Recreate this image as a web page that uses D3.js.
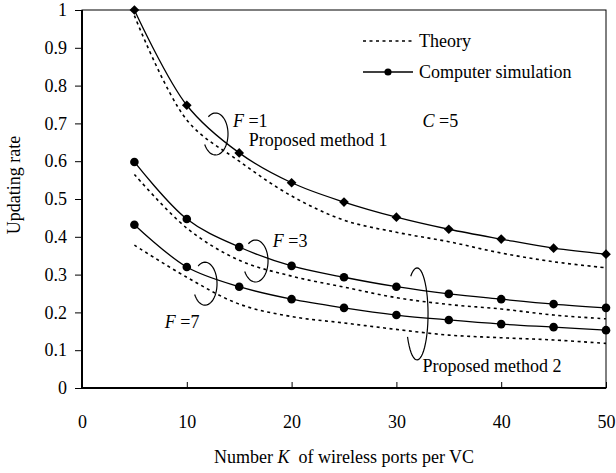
<!DOCTYPE html>
<html>
<head>
<meta charset="utf-8">
<script src="https://cdn.jsdelivr.net/npm/d3@7"></script>
<style>
  body { margin: 0; background: #fff; }
</style>
</head>
<body>
<svg class="chart" width="616" height="473"></svg>
<script>
const K = [5, 10, 15, 20, 25, 30, 35, 40, 45, 50]

// computer simulation
const simF1 = [1.0, 0.748, 0.622, 0.543, 0.492, 0.452, 0.420, 0.394, 0.370, 0.354]
const simF3 = [0.598, 0.447, 0.373, 0.323, 0.293, 0.268, 0.249, 0.235, 0.222, 0.212]
const simF7 = [0.432, 0.320, 0.268, 0.235, 0.212, 0.193, 0.180, 0.169, 0.161, 0.153]

// theory
const thF1 = [0.985, 0.709, 0.600, 0.508, 0.444, 0.412, 0.387, 0.357, 0.334, 0.318]
const thF3 = [0.565, 0.423, 0.338, 0.296, 0.267, 0.239, 0.221, 0.209, 0.193, 0.183]
const thF7 = [0.378, 0.293, 0.222, 0.189, 0.172, 0.155, 0.140, 0.133, 0.127, 0.118]

const xTicks = [0, 10, 20, 30, 40, 50]
const yTicks = [0, 0.1, 0.2, 0.3, 0.4, 0.5, 0.6, 0.7, 0.8, 0.9, 1]

const width = 616
const height = 473
const margin = {top: 10, right: 10, bottom: 85, left: 82}
const fs = 18
const font = "'Liberation Serif', 'Times New Roman', serif"

const svg = d3.select('svg.chart')
    .attr("viewBox", [0, 0, width, height])
    .attr("font-family", font)

const x = d3.scaleLinear().domain([0, 50]).range([margin.left, width - margin.right])
const y = d3.scaleLinear().domain([0, 1]).range([height - margin.bottom, margin.top])

// axes
svg.append("g")
    .attr("transform", `translate(0,${y(0)})`)
    .call(d3.axisBottom(x).tickValues(xTicks).tickSize(-6).tickPadding(27))
    .attr("font-family", font).attr("font-size", fs)
    .call(g => g.select(".domain").remove())
    .call(g => g.selectAll("line").attr("stroke", "#000"))
    .call(g => g.selectAll("text").attr("fill", "#000"))

svg.append("g")
    .attr("transform", `translate(${x(0)},0)`)
    .call(d3.axisLeft(y).tickValues(yTicks).tickSize(7).tickPadding(8)
        .tickFormat(d => (d === 0 || d === 1) ? d : d.toFixed(1)))
    .attr("font-family", font).attr("font-size", fs)
    .call(g => g.select(".domain").remove())
    .call(g => g.selectAll("line").attr("stroke", "#000"))
    .call(g => g.selectAll("text").attr("fill", "#000"))

// frame
svg.append("rect")
    .attr("x", x(0)).attr("y", y(1))
    .attr("width", x(50) - x(0)).attr("height", y(0) - y(1))
    .attr("fill", "none").attr("stroke", "#000").attr("stroke-width", 1)
svg.append("path")
    .attr("d", `M${x(0)},${y(1)}V${y(0)}H${x(50)}`)
    .attr("fill", "none").attr("stroke", "#000").attr("stroke-width", 2)

// axis titles
svg.append("text")
    .attr("x", (x(0) + x(50)) / 2).attr("y", 463)
    .attr("text-anchor", "middle").attr("font-size", fs)
    .call(t => {
        t.append("tspan").text("Number ")
        t.append("tspan").attr("font-style", "italic").text("K")
        t.append("tspan").text("\u00a0 of wireless ports per VC")
    })

svg.append("text")
    .attr("transform", "translate(20,185) rotate(-90)")
    .attr("text-anchor", "middle").attr("font-size", fs)
    .text("Updating rate")

const line = d3.line()
    .x((d, i) => x(K[i]))
    .y(d => y(d))
    .curve(d3.curveCatmullRom.alpha(0.5))

const theory = [thF1, thF3, thF7]
const sims = [
    {values: simF1, shape: d3.symbolDiamond2, size: 60},
    {values: simF3, shape: d3.symbolCircle, size: 58},
    {values: simF7, shape: d3.symbolCircle, size: 58},
]

svg.append("g")
    .selectAll("path")
    .data(theory)
    .join("path")
    .attr("d", line)
    .attr("fill", "none")
    .attr("stroke", "#000")
    .attr("stroke-width", 1.6)
    .attr("stroke-dasharray", "3,3.5")

svg.append("g")
    .selectAll("path")
    .data(sims)
    .join("path")
    .attr("d", d => line(d.values))
    .attr("fill", "none")
    .attr("stroke", "#000")
    .attr("stroke-width", 1.3)

sims.forEach(s => {
    svg.append("g")
        .selectAll("path")
        .data(s.values)
        .join("path")
        .attr("transform", (d, i) => `translate(${x(K[i])},${y(d)})`)
        .attr("d", d3.symbol().type(s.shape).size(s.size))
        .attr("fill", "#000")
})

// legend
const lg = svg.append("g").attr("font-size", fs)
lg.append("line")
    .attr("x1", 363).attr("x2", 413).attr("y1", 41).attr("y2", 41)
    .attr("stroke", "#000").attr("stroke-width", 1.6).attr("stroke-dasharray", "3,3.5")
lg.append("text").attr("x", 419).attr("y", 47).text("Theory")
lg.append("line")
    .attr("x1", 363).attr("x2", 413).attr("y1", 72).attr("y2", 72)
    .attr("stroke", "#000").attr("stroke-width", 1.3)
lg.append("path")
    .attr("transform", "translate(388,72)")
    .attr("d", d3.symbol().type(d3.symbolCircle).size(40))
lg.append("text").attr("x", 419).attr("y", 78).text("Computer simulation")

// annotations (data units)
const loops = [
    {k: 12.74, v: 0.672, rx: 12.5, ry: 21},
    {k: 16.56, v: 0.336, rx: 12.5, ry: 21},
    {k: 11.74, v: 0.276, rx: 12, ry: 21.5},
    {k: 31.97, v: 0.196, rx: 11, ry: 46},
]
const loopPath = d => {
    const p = d3.path()
    const a0 = -125 * Math.PI / 180
    const a1 = 150 * Math.PI / 180
    const n = 40
    for (let i = 0; i <= n; i++) {
        const a = a0 + (a1 - a0) * i / n
        const px = x(d.k) + d.rx * Math.cos(a)
        const py = y(d.v) + d.ry * Math.sin(a)
        if (i === 0) p.moveTo(px, py)
        else p.lineTo(px, py)
    }
    return p.toString()
}
svg.append("g")
    .selectAll("path")
    .data(loops)
    .join("path")
    .attr("d", loopPath)
    .attr("fill", "none")
    .attr("stroke", "#000")
    .attr("stroke-width", 1.2)

const fLabels = [
    {k: 14.4, v: 0.690, f: "1"},
    {k: 18.2, v: 0.373, f: "3"},
    {k: 7.9, v: 0.159, f: "7"},
]
svg.append("g")
    .selectAll("text")
    .data(fLabels)
    .join("text")
    .attr("x", d => x(d.k)).attr("y", d => y(d.v))
    .attr("font-size", fs)
    .call(t => {
        t.append("tspan").attr("font-style", "italic").text("F")
        t.append("tspan").text(d => " =" + d.f)
    })

const notes = [
    {k: 32.5, v: 0.690, text: "C =5", italic: true},
    {k: 15.9, v: 0.640, text: "Proposed method 1"},
    {k: 32.5, v: 0.042, text: "Proposed method 2"},
]
notes.forEach(n => {
    const t = svg.append("text").attr("x", x(n.k)).attr("y", y(n.v)).attr("font-size", fs)
    if (n.italic) {
        t.append("tspan").attr("font-style", "italic").text(n.text[0])
        t.append("tspan").text(n.text.slice(1))
    } else {
        t.text(n.text)
    }
})
</script>
</body>
</html>
